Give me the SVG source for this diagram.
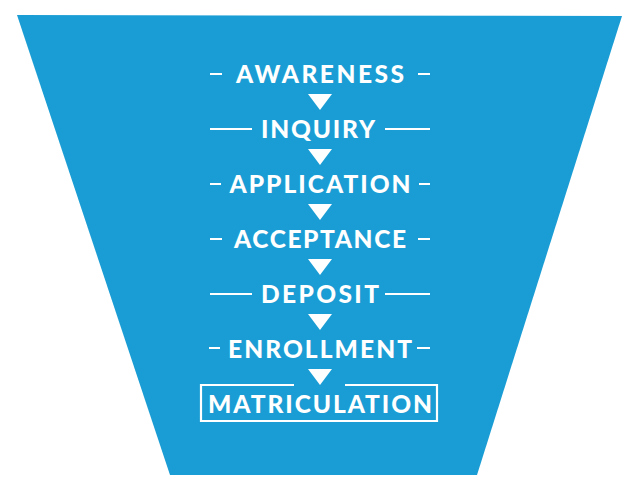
<svg xmlns="http://www.w3.org/2000/svg" width="640" height="496" viewBox="0 0 640 496">
<style>
.t{font-family:Lato,"Open Sans","Liberation Sans",sans-serif;font-weight:900;font-size:24.5px;fill:#fff;text-anchor:middle}
.d{stroke:#fff;stroke-width:2.2;fill:none}
.a{fill:#fff}
</style>
<rect width="640" height="496" fill="#fff"/>
<polygon id="funnel" points="17,15 622,16 477,475 170,475" fill="#1A9DD4"/>
<g id="awareness"><text class="t" x="320" y="83" textLength="168" lengthAdjust="spacing">AWARENESS</text><path class="d" d="M210 74H222M418 74H430"/></g>
<g id="inquiry"><text class="t" x="318" y="138" textLength="114" lengthAdjust="spacing">INQUIRY</text><path class="d" d="M210 129H252M385 129H430"/></g>
<g id="application"><text class="t" x="320" y="193" textLength="181" lengthAdjust="spacing">APPLICATION</text><path class="d" d="M210 184H221M419 184H430"/></g>
<g id="acceptance"><text class="t" x="320" y="248" textLength="172" lengthAdjust="spacing">ACCEPTANCE</text><path class="d" d="M210 239H222M418 239H430"/></g>
<g id="deposit"><text class="t" x="320" y="303" textLength="118" lengthAdjust="spacing">DEPOSIT</text><path class="d" d="M210 294H252M385 294H430"/></g>
<g id="enrollment"><text class="t" x="320" y="358" textLength="184" lengthAdjust="spacing">ENROLLMENT</text><path class="d" d="M209 348H220M417 348H430"/></g>
<g id="matriculation"><path class="d" d="M294 385H201V421H437V385H345"/><text class="t" x="320" y="413" textLength="224" lengthAdjust="spacing">MATRICULATION</text></g>
<g id="connectors">
<polygon class="a" points="308,94 332,94 320,110"/>
<polygon class="a" points="308,149 332,149 320,165"/>
<polygon class="a" points="308,204 332,204 320,220"/>
<polygon class="a" points="308,259 332,259 320,275"/>
<polygon class="a" points="308,314 332,314 320,330"/>
<polygon class="a" points="308,369 332,369 320,385"/>
</g>
</svg>
